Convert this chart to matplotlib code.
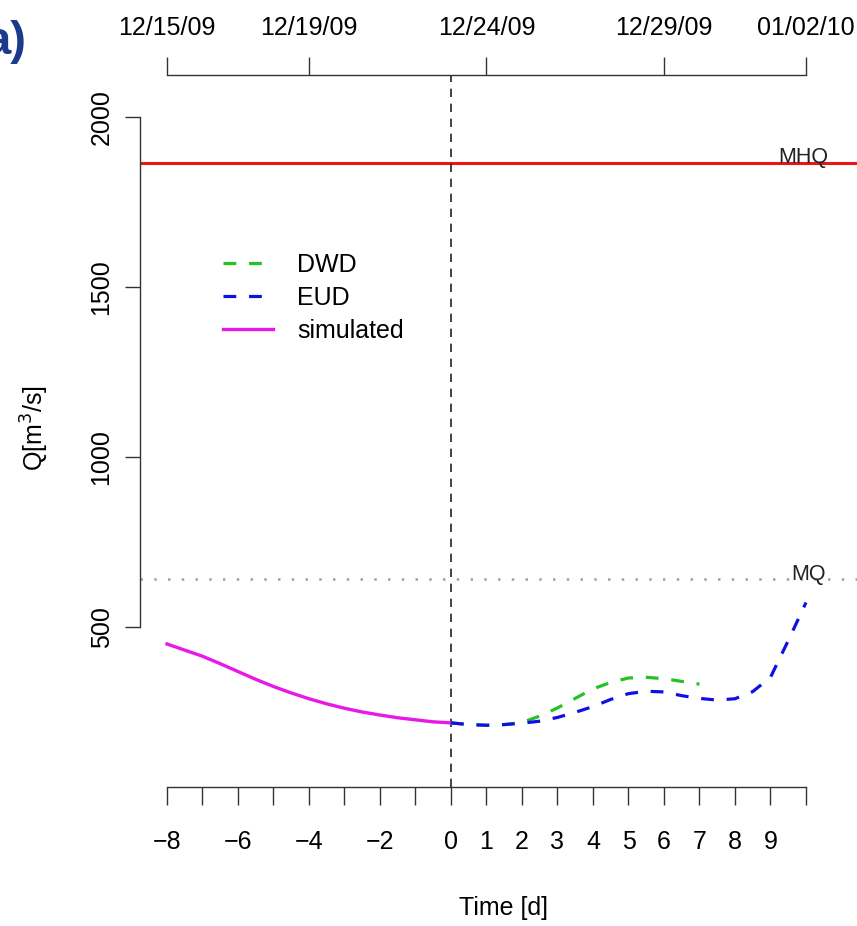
import matplotlib
matplotlib.use("Agg")
import matplotlib.pyplot as plt

plt.rcParams['font.family'] = ['Liberation Sans', 'DejaVu Sans']

# ---- data ----
sim_t = [-8, -7.5, -7, -6.5, -6, -5.5, -5, -4.5, -4, -3.5, -3, -2.5, -2, -1.5, -1, -0.5, 0]
sim_q = [450, 432, 414, 392, 369, 346, 325, 306, 289, 274, 261, 250, 241, 233, 227, 221, 218]

dwd_t = [0, 0.5, 1, 1.5, 2, 2.5, 3, 3.5, 4, 4.5, 5, 5.5, 6, 6.5, 7]
dwd_q = [218, 213, 211, 213, 219, 238, 262, 290, 318, 337, 350, 352, 348, 340, 332]

eud_t = [0, 0.5, 1, 1.5, 2, 2.5, 3, 3.5, 4, 4.5, 5, 5.5, 6, 6.5, 7, 7.5, 8, 8.5, 9, 9.5, 10]
eud_q = [218, 213, 211, 213, 217, 223, 234, 249, 266, 287, 304, 311, 309, 298, 290, 285, 289, 310, 352, 460, 572]

MHQ = 1865
MQ = 641

bottom_ticks = list(range(-8, 11))
bottom_labels = ['\u22128', '', '\u22126', '', '\u22124', '', '\u22122', '', '0', '1', '2', '3',
                 '4', '5', '6', '7', '8', '9', '']
top_ticks = [-8, -4, 1, 6, 10]
top_labels = ['12/15/09', '12/19/09', '12/24/09', '12/29/09', '01/02/10']
y_ticks = [500, 1000, 1500, 2000]

W, H = 857, 926
fig = plt.figure(figsize=(W / 100, H / 100), dpi=100)
ax = fig.add_axes([140 / W, (H - 787) / H, (W - 140) / W, (787 - 75) / H])
ax.set_xlim(-8.76, 11.437)
ax.set_ylim(29.4, 2123.5)

axcol = '#333333'
fs = 18

# reference lines
ax.axhline(MHQ, color='#e8161b', lw=2.2, zorder=2)
ax.axhline(MQ, color='#a0a0a0', lw=1.8, linestyle=(0, (1, 4.5)), zorder=2)
ax.axvline(0, color='#222222', lw=1.2, linestyle=(0, (5, 4)), zorder=3)

ax.text(9.92, 1880, 'MHQ', ha='center', va='center', fontsize=15.5, color='#222222')
ax.text(10.08, 653, 'MQ', ha='center', va='center', fontsize=15.5, color='#222222')

# series
l_dwd, = ax.plot(dwd_t, dwd_q, color='#22c322', lw=2.3, linestyle=(0, (4, 4)), label='DWD', zorder=4)
l_eud, = ax.plot(eud_t, eud_q, color='#1010e6', lw=2.3, linestyle=(0, (4, 4)), label='EUD', zorder=5)
l_sim, = ax.plot(sim_t, sim_q, color='#e619e6', lw=2.4, label='simulated', zorder=4)

leg = ax.legend(handles=[l_dwd, l_eud, l_sim], loc='upper left',
                bbox_to_anchor=(223 / W, 1 - 253 / H), bbox_transform=fig.transFigure,
                frameon=False, fontsize=fs, handlelength=2.0, handletextpad=0.96,
                labelspacing=0.36, borderpad=0, borderaxespad=0)

# spines
for s in ['right', 'top']:
    ax.spines[s].set_visible(False)
ax.spines['left'].set_bounds(500, 2000)
ax.spines['bottom'].set_bounds(-8, 10)
for s in ['left', 'bottom']:
    ax.spines[s].set_color(axcol)
    ax.spines[s].set_linewidth(1.0)

ax.set_yticks(y_ticks)
ax.set_yticklabels([str(v) for v in y_ticks], rotation=90, va='center', fontsize=fs)
ax.tick_params(axis='y', direction='out', length=11, width=1.0, color=axcol, pad=8)

ax.set_xticks(bottom_ticks)
ax.set_xticklabels(bottom_labels, fontsize=fs)
ax.tick_params(axis='x', direction='out', length=13, width=1.0, color=axcol, pad=18)

# top date axis
axt = ax.twiny()
axt.set_xlim(ax.get_xlim())
for s in ['right', 'left', 'bottom']:
    axt.spines[s].set_visible(False)
axt.spines['top'].set_bounds(-8, 10)
axt.spines['top'].set_color(axcol)
axt.spines['top'].set_linewidth(1.0)
axt.set_xticks(top_ticks)
axt.set_xticklabels(top_labels, fontsize=fs)
axt.tick_params(axis='x', direction='out', length=13, width=1.0, color=axcol, pad=12)

fig.text(35 / W, 1 - 428 / H, 'Q[m$^3$/s]', rotation=90, ha='center', va='center', fontsize=fs)
fig.text(504 / W, 1 - 908 / H, 'Time [d]', ha='center', va='center', fontsize=fs)
fig.text(27 / W, 1 - 42 / H, 'a)', ha='right', va='center', fontsize=34,
         fontweight='bold', color='#1c3a8c')

fig.savefig('out.png', dpi=100)
